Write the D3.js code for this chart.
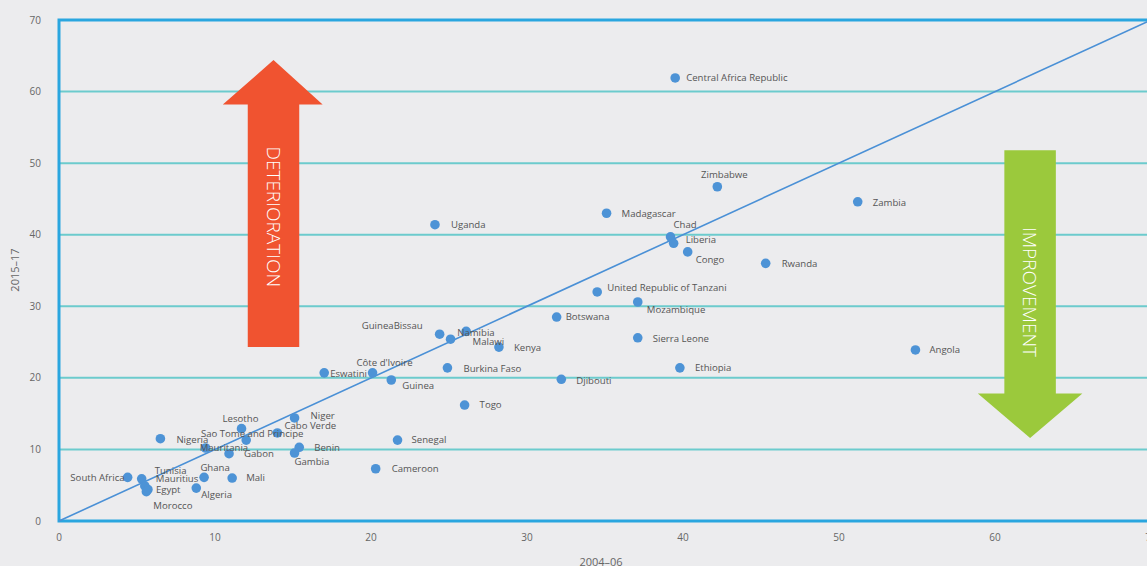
<!DOCTYPE html>
<html>
<head>
<meta charset="utf-8">
<script src="https://cdn.jsdelivr.net/npm/d3@7/dist/d3.min.js"></script>
<style>
  html, body { margin: 0; padding: 0; background: #ececee; }
  svg { display: block; }
  .lbl { font-family: "Open Sans", sans-serif; font-size: 9.6px; fill: #555; }
  .tick { font-family: "Open Sans", sans-serif; font-size: 10px; fill: #666; }
</style>
</head>
<body>
<script>
// countries and their values (x = 2004-06, y = 2015-17)
var countries = ["Central Africa Republic","Zimbabwe","Zambia","Madagascar","Uganda","Chad","Liberia","Congo",
  "Rwanda","United Republic of Tanzani","Mozambique","Botswana","GuineaBissau","Namibia","Malawi","Kenya",
  "Sierra Leone","Angola","Ethiopia","Burkina Faso","Eswatini","Côte d'Ivoire","Guinea","Djibouti","Togo",
  "Niger","Lesotho","Cabo Verde","Sao Tome and Principe","Senegal","Nigeria","Benin","Mauritania","Gabon",
  "Gambia","Cameroon","Ghana","Mali","South Africa","Tunisia","Mauritius","Egypt","Algeria","Morocco"];
var period1 = [39.5,42.2,51.2,35.1,24.1,39.2,39.4,40.3,45.3,34.5,37.1,31.9,24.4,26.1,25.1,28.2,
  37.1,54.9,39.8,24.9,17.0,20.1,21.3,32.2,26.0,15.1,11.7,14.0,12.0,21.7,6.5,15.4,9.4,10.9,
  15.1,20.3,9.3,11.1,4.4,5.3,5.5,5.7,8.8,5.6];
var period2 = [61.9,46.7,44.6,43.0,41.4,39.7,38.8,37.6,36.0,32.0,30.6,28.5,26.1,26.5,25.4,24.3,
  25.6,23.9,21.4,21.4,20.7,20.7,19.7,19.8,16.2,14.4,12.9,12.3,11.3,11.3,11.5,10.3,10.2,9.4,
  9.5,7.3,6.1,6.0,6.1,5.9,4.9,4.4,4.6,4.1];
// label placement: [dx, dy, anchor]
var labelPlacement = [[11,0,"start"],[7,-12,"middle"],[15,1,"start"],[15,0,"start"],[16,0,"start"],[3,-12,"start"],[12,-4,"start"],[8,8,"start"],
  [16,0,"start"],[10,-4,"start"],[9,8,"start"],[9,0,"start"],[-17,-9,"end"],[-9,1,"start"],[22,2,"start"],[15,1,"start"],
  [15,1,"start"],[14,0,"start"],[15,0,"start"],[16,1,"start"],[6,1,"start"],[12,-10,"middle"],[11,6,"start"],[15,1,"start"],[15,0,"start"],
  [16,-2,"start"],[-1,-10,"middle"],[7,-7,"start"],[6,-6,"middle"],[14,0,"start"],[16,1,"start"],[15,0,"start"],[-6,0,"start"],[15,0,"start"],
  [0,9,"start"],[16,0,"start"],[11,-10,"middle"],[14,0,"start"],[-3,0,"end"],[13,-8,"start"],[11,-7,"start"],[8,0,"start"],[5,7,"start"],[7,14,"start"]];
var xTicks = [0,10,20,30,40,50,60,70];
var yTicks = [0,10,20,30,40,50,60,70];
var gridValues = [10,20,30,40,50,60];
// arrows in data units: shaft x range, base/head y, head x range, tip y, text centre y
var arrowUp = {x0:12.1, x1:15.4, yBase:24.3, yHead:58.2, headX0:10.5, headX1:16.9, tip:64.4, textY:42.5, label:"DETERIORATION", color:"#f05330"};
var arrowDown = {x0:60.6, x1:63.9, yBase:51.8, yHead:17.8, headX0:58.9, headX1:65.6, tip:11.6, textY:32.0, label:"IMPROVEMENT", color:"#9bc93c"};

var W = 1147, H = 566;
var svg = d3.select("body").append("svg").attr("width", W).attr("height", H);

var x = d3.scaleLinear().domain([0,70]).range([59,1151]);
var y = d3.scaleLinear().domain([0,70]).range([521,20]);

// gridlines
svg.selectAll("line.grid").data(gridValues).enter().append("line")
  .attr("x1", x(0)).attr("x2", x(70))
  .attr("y1", function(d){ return y(d); }).attr("y2", function(d){ return y(d); })
  .style("stroke", "#6ccbcd").style("stroke-width", 2);

// frame
svg.append("rect")
  .attr("x", x(0)).attr("y", y(70))
  .attr("width", x(70)-x(0)).attr("height", y(0)-y(70))
  .style("fill", "none").style("stroke", "#2aa6df").style("stroke-width", 3);

// arrows
function drawArrow(a) {
  var pts = [[a.x0,a.yBase],[a.x0,a.yHead],[a.headX0,a.yHead],[(a.x0+a.x1)/2,a.tip],[a.headX1,a.yHead],[a.x1,a.yHead],[a.x1,a.yBase]];
  svg.append("polygon")
    .attr("points", pts.map(function(p){ return x(p[0])+","+y(p[1]); }).join(" "))
    .style("fill", a.color);
  var cx = x((a.x0+a.x1)/2), cy = y(a.textY);
  svg.append("text")
    .attr("transform", "translate("+cx+","+cy+") rotate(90)")
    .attr("text-anchor", "middle").attr("dy", "0.35em")
    .style("font-family", "'Open Sans', sans-serif").style("font-weight", 300)
    .style("font-size", "19px").style("fill", "#fff")
    .text(a.label);
}
drawArrow(arrowUp);
drawArrow(arrowDown);

// diagonal
svg.append("line")
  .attr("x1", x(0)).attr("y1", y(0)).attr("x2", x(70)).attr("y2", y(70))
  .style("stroke", "#4a90d6").style("stroke-width", 1.6);

// ticks
svg.selectAll("text.ytick").data(yTicks).enter().append("text")
  .attr("class", "tick").attr("x", 41).attr("y", function(d){ return y(d); })
  .attr("dy", "0.35em").attr("text-anchor", "end").text(function(d){ return d; });
svg.selectAll("text.xtick").data(xTicks).enter().append("text")
  .attr("class", "tick").attr("x", function(d){ return x(d); }).attr("y", 541)
  .attr("text-anchor", "middle").text(function(d){ return d; });

// axis titles
svg.append("text").attr("class", "tick")
  .attr("transform", "translate(19,270) rotate(-90)").attr("text-anchor", "middle")
  .style("font-size", "11px").text("2015–17");
svg.append("text").attr("class", "tick")
  .attr("x", 601).attr("y", 566).attr("text-anchor", "middle")
  .style("font-size", "11px").text("2004–06");

// points
var idx = d3.range(countries.length);
svg.selectAll("circle.pt").data(idx).enter().append("circle")
  .attr("cx", function(i){ return x(period1[i]); })
  .attr("cy", function(i){ return y(period2[i]); })
  .attr("r", 4.8).style("fill", "#4d93d6");

svg.selectAll("text.lbl").data(idx).enter().append("text")
  .attr("class", "lbl")
  .attr("x", function(i){ return x(period1[i]) + labelPlacement[i][0]; })
  .attr("y", function(i){ return y(period2[i]) + labelPlacement[i][1]; })
  .attr("dy", "0.35em")
  .attr("text-anchor", function(i){ return labelPlacement[i][2]; })
  .text(function(i){ return countries[i]; });
</script>
</body>
</html>
